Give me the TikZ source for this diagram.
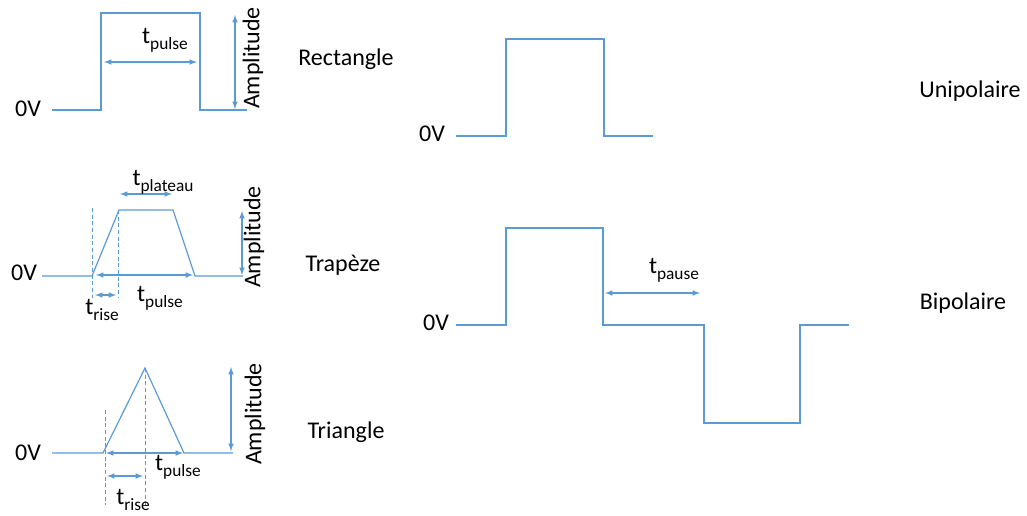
\documentclass[tikz,border=0pt]{standalone}
\usepackage{fontspec}
\setmainfont{Carlito}
\usetikzlibrary{arrows}
\definecolor{waveblue}{HTML}{5B9BD5}
\newcommand{\tsub}[1]{t\raisebox{-0.5ex}{\fontsize{13}{15}\selectfont #1}}
\tikzstyle{wave} = [
    draw=waveblue,
    line width=0.9pt
]
\tikzstyle{dim} = [
    draw=waveblue,
    line width=0.9pt,
    <->,
    >=latex
]
\tikzstyle{guide} = [
    draw=waveblue,
    line width=0.7pt,
    dash pattern=on 3pt off 2pt
]
\tikzstyle{label} = [
    font=\fontsize{18}{21}\selectfont,
    inner sep=0pt
]

\begin{document}
\begin{tikzpicture}[x=0.75pt, y=-0.75pt]

\useasboundingbox (0,0) rectangle (1027,515);

% Rectangle
\draw [wave] (52,110) -- (101,110) -- (101,13) -- (200,13) -- (200,110) -- (247,110);
\draw [dim] (104,62) -- (197,62);
\draw [dim] (235,15) -- (235,109);
\node (rectzero) [label] at (28,109) {0V};
\node (rectpulse) [label] at (165,40) {\tsub{pulse}};
\node (rectamp) [label, rotate=90] at (253,58) {Amplitude};
\node (rectname) [label] at (346,59) {Rectangle};

% Trapeze
\draw [wave] (42,276) -- (92,276) -- (119,210) -- (173,210) -- (195,276) -- (243,276);
\draw [guide] (92,208) -- (92,298);
\draw [guide] (118,210) -- (118,298);
\draw [dim] (95,295) -- (116,295);
\draw [dim] (96,275) -- (193,275);
\draw [dim] (120,194) -- (172,194);
\draw [dim] (242,211) -- (242,275);
\node (trapzero) [label] at (24,273) {0V};
\node (traprise) [label] at (102,310) {\tsub{rise}};
\node (trappulse) [label] at (160,298) {\tsub{pulse}};
\node (trapplateau) [label] at (163,182) {\tsub{plateau}};
\node (trapamp) [label, rotate=90] at (254,237) {Amplitude};
\node (trapname) [label] at (343,265) {Trapèze};

% Triangle
\draw [wave] (52,453) -- (103,453) -- (145,368) -- (184,453) -- (233,453);
\draw [guide] (105,410) -- (105,505);
\draw [guide] (145,368) -- (145,505);
\draw [dim] (106,453) -- (183,453);
\draw [dim] (107,476) -- (143,476);
\draw [dim] (231,367) -- (231,451);
\node (trizero) [label] at (28,453) {0V};
\node (tripulse) [label] at (178,467) {\tsub{pulse}};
\node (tririse) [label] at (133,500) {\tsub{rise}};
\node (triamp) [label, rotate=90] at (255,414) {Amplitude};
\node (triname) [label] at (346,432) {Triangle};

% Unipolaire
\draw [wave] (456,136) -- (506,136) -- (506,39) -- (604,39) -- (604,136) -- (653,136);
\node (unizero) [label] at (432,134) {0V};
\node (uniname) [label] at (970,91) {Unipolaire};

% Bipolaire
\draw [wave] (456,325) -- (506,325) -- (506,228) -- (603,228) -- (603,325) -- (704,325)
    -- (704,423) -- (800,423) -- (800,325) -- (849,325);
\draw [dim] (605,293) -- (700,293);
\node (bizero) [label] at (436,323) {0V};
\node (bipause) [label] at (674,270) {\tsub{pause}};
\node (biname) [label] at (963,303) {Bipolaire};

\end{tikzpicture}
\end{document}
